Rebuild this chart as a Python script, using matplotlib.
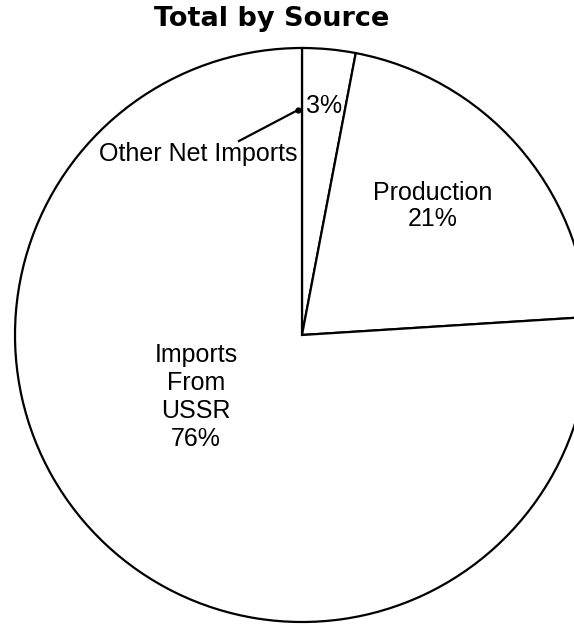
import matplotlib
matplotlib.use("Agg")
import matplotlib.pyplot as plt

# Data
sources = ["Other Net Imports", "Production", "Imports\nFrom\nUSSR"]
shares = [3, 21, 76]

W, H = 574, 624
fig = plt.figure(figsize=(W / 100, H / 100), dpi=100)
ax = fig.add_axes([0, 0, 1, 1])

def py(y_px):
    return H - y_px

cx, cy, r = 302, py(335), 287
ax.pie(shares, startangle=90, counterclock=False, center=(cx, cy), radius=r,
       colors=["white"] * len(shares),
       wedgeprops=dict(edgecolor="black", linewidth=1.6))
ax.set_xlim(0, W)
ax.set_ylim(0, H)
ax.set_aspect("equal")
ax.axis("off")

fam = ["Liberation Sans", "DejaVu Sans"]
pct = [f"{v}%" for v in shares]

# Title
ax.text(272, py(19), "Total by Source", ha="center", va="center",
        fontsize=19.5, fontweight="bold", family="DejaVu Sans")

# Small slice: label outside with leader line
ax.text(324, py(106), pct[0], ha="center", va="center", fontsize=18, family=fam)
ax.text(198, py(154), sources[0], ha="center", va="center", fontsize=18, family=fam)
ax.plot([239, 298], [py(141), py(110)], color="black", lw=1.6)
ax.plot([298], [py(110)], marker="o", ms=3.5, color="black")

# Production
ax.text(433, py(206), f"{sources[1]}\n{pct[1]}", ha="center", va="center",
        fontsize=18, family=fam, linespacing=1.1)

# Imports from USSR
ax.text(196, py(397), f"{sources[2]}\n{pct[2]}", ha="center", va="center",
        fontsize=18, family=fam, linespacing=1.22)

fig.savefig("out.png", dpi=100, facecolor="white")
